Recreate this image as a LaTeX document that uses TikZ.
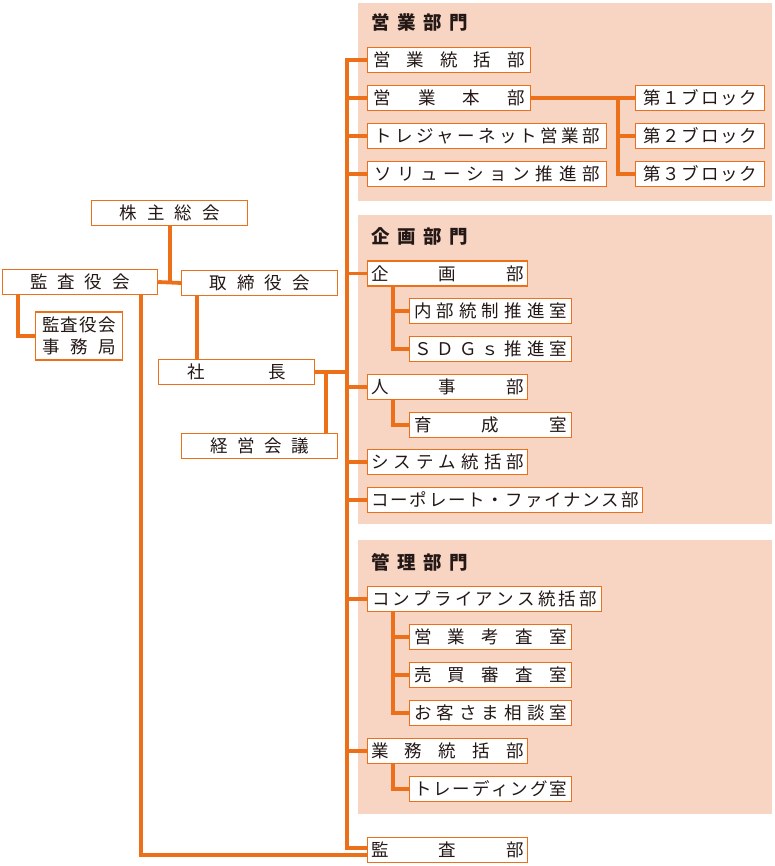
\documentclass[tikz,border=0pt]{standalone}
\usepackage{fontspec}
\setmainfont{Noto Sans CJK JP}
\usepackage{tikz}

\definecolor{lineorange}{RGB}{236,112,26}
\definecolor{panelpink}{RGB}{248,212,194}
\definecolor{textgray}{RGB}{35,24,21}

% text spread over a fixed width
\newcommand{\spread}[2]{\makebox[#1][s]{\spaceskip=0pt plus 1fil\relax #2}}

\tikzset{
	box/.style={draw=lineorange, line width=1.2pt, fill=white, inner sep=0pt,
		minimum height=25pt, anchor=west, text=textgray, font=\fontsize{17.5}{22}\selectfont},
	link/.style={draw=lineorange, line width=3.8pt},
	panel/.style={fill=panelpink},
	head/.style={anchor=west, inner sep=0pt, text=textgray, font=\fontsize{18.5}{22}\selectfont\bfseries}
}

\begin{document}
\begin{tikzpicture}[x=1pt,y=-1pt]
	\useasboundingbox (0,0) rectangle (775,866);
	% panels
	\fill[panel] (358,3) rectangle (772,201);
	\fill[panel] (358,215) rectangle (772,524);
	\fill[panel] (358,540) rectangle (772,814);
	\node[head] (eigyohead) at (371,22) {\spread{97pt}{営 業 部 門}};
	\node[head] (kikakuhead) at (371,236) {\spread{97pt}{企 画 部 門}};
	\node[head] (kanrihead) at (371,562) {\spread{97pt}{管 理 部 門}};

	% left side
	\node[box, minimum width=156pt] (kabunushi) at (91,213) {\spread{100pt}{株 主 総 会}};
	\node[box, minimum width=155pt] (kansayaku) at (2,282) {\spread{99pt}{監 査 役 会}};
	\node[box, minimum width=156pt] (torishimari) at (181,283) {\spread{100pt}{取 締 役 会}};
	\node[box, minimum width=87pt, minimum height=48pt, align=center] (jimukyoku) at (35,336) {\spread{74pt}{監 査 役 会}\\\spread{74pt}{事 務 局}};
	\node[box, minimum width=156pt] (shacho) at (158,372) {\spread{99pt}{社 長}};
	\node[box, minimum width=156pt] (keiei) at (181,446) {\spread{99pt}{経 営 会 議}};

	% sales
	\node[box, minimum width=163pt] (tokatsu) at (367,60) {\spread{151pt}{営 業 統 括 部}};
	\node[box, minimum width=163pt] (honbu) at (367,98) {\spread{151pt}{営 業 本 部}};
	\node[box, minimum width=239pt] (treasure) at (367,136) {\spread{225pt}{ト レ ジ ャ ー ネ ッ ト 営 業 部}};
	\node[box, minimum width=239pt] (solution) at (367,174) {\spread{225pt}{ソ リ ュ ー シ ョ ン 推 進 部}};
	\node[box, minimum width=129pt] (block1) at (635,98) {\spread{114pt}{第 １ ブ ロ ッ ク}};
	\node[box, minimum width=129pt] (block2) at (635,136) {\spread{114pt}{第 ２ ブ ロ ッ ク}};
	\node[box, minimum width=129pt] (block3) at (635,174) {\spread{114pt}{第 ３ ブ ロ ッ ク}};

	% planning
	\node[box, minimum width=160pt] (kikaku) at (367,273.5) {\spread{153pt}{企 画 部}};
	\node[box, minimum width=162pt] (naibu) at (409,311) {\spread{153pt}{内 部 統 制 推 進 室}};
	\node[box, minimum width=162pt] (sdgs) at (409,349) {\spread{153pt}{Ｓ Ｄ Ｇ ｓ 推 進 室}};
	\node[box, minimum width=160pt] (jinji) at (367,387) {\spread{153pt}{人 事 部}};
	\node[box, minimum width=162pt] (ikusei) at (409,425) {\spread{153pt}{育 成 室}};
	\node[box, minimum width=160pt] (system) at (367,462) {\spread{153pt}{シ ス テ ム 統 括 部}};
	\node[box, minimum width=275pt] (corporate) at (367,500) {\spread{267pt}{コ ー ポ レ ー ト ・ フ ァ イ ナ ン ス 部}};

	% administration
	\node[box, minimum width=234pt] (compliance) at (367,599) {\spread{225pt}{コ ン プ ラ イ ア ン ス 統 括 部}};
	\node[box, minimum width=162pt] (kousa) at (409,637) {\spread{153pt}{営 業 考 査 室}};
	\node[box, minimum width=162pt] (baibai) at (409,675) {\spread{153pt}{売 買 審 査 室}};
	\node[box, minimum width=162pt] (soudan) at (409,713) {\spread{153pt}{お 客 さ ま 相 談 室}};
	\node[box, minimum width=160pt] (gyomu) at (367,751) {\spread{153pt}{業 務 統 括 部}};
	\node[box, minimum width=162pt] (trading) at (409,789) {\spread{153pt}{ト レ ー デ ィ ン グ 室}};
	\node[box, minimum width=160pt] (kansabu) at (367,850) {\spread{153pt}{監 査 部}};

	% connectors
	\coordinate (trunk) at (347,0);
	\coordinate (kaigi) at (326,0);
	\coordinate (bj) at (618,0);
	\coordinate (sub) at (393,0);
	\coordinate (kbin) at ([yshift=2pt]kansabu.west);
	\coordinate (kbout) at ([yshift=-5pt]kansabu.west);
	\coordinate (kanbranch) at ([xshift=-17pt]kansayaku.south east);
	\coordinate (jimbranch) at ([xshift=16pt]kansayaku.south west);
	\coordinate (torbranch) at ([xshift=16pt]torishimari.south west);

	\draw[link] (kabunushi.south) -- (kabunushi.south |- torishimari.west);
	\draw[link] (kansayaku.east) -- (torishimari.west);
	\draw[link] (jimbranch) |- (jimukyoku.west);
	\draw[link] (torbranch) -- (torbranch |- shacho.north);
	\draw[link] (kanbranch) |- (kbout);
	\draw[link] (shacho.east) -- (trunk |- shacho.east);
	\draw[link] (kaigi |- shacho.east) -- (kaigi |- keiei.north);

	\draw[link] (tokatsu.west) -| (trunk |- kbin) -- (kbin);
	\foreach \n in {honbu, treasure, solution, kikaku, jinji, system, corporate, compliance, gyomu}
		\draw[link] (trunk |- \n.west) -- (\n.west);

	\draw[link] (honbu.east) -- (block1.west);
	\draw[link] (bj |- honbu.east) |- (block3.west);
	\draw[link] (bj |- block2.west) -- (block2.west);

	\draw[link] (sub |- kikaku.south) |- (sdgs.west);
	\draw[link] (sub |- naibu.west) -- (naibu.west);
	\draw[link] (sub |- jinji.south) |- (ikusei.west);
	\draw[link] (sub |- compliance.south) |- (soudan.west);
	\draw[link] (sub |- kousa.west) -- (kousa.west);
	\draw[link] (sub |- baibai.west) -- (baibai.west);
	\draw[link] (sub |- gyomu.south) |- (trading.west);
\end{tikzpicture}
\end{document}
